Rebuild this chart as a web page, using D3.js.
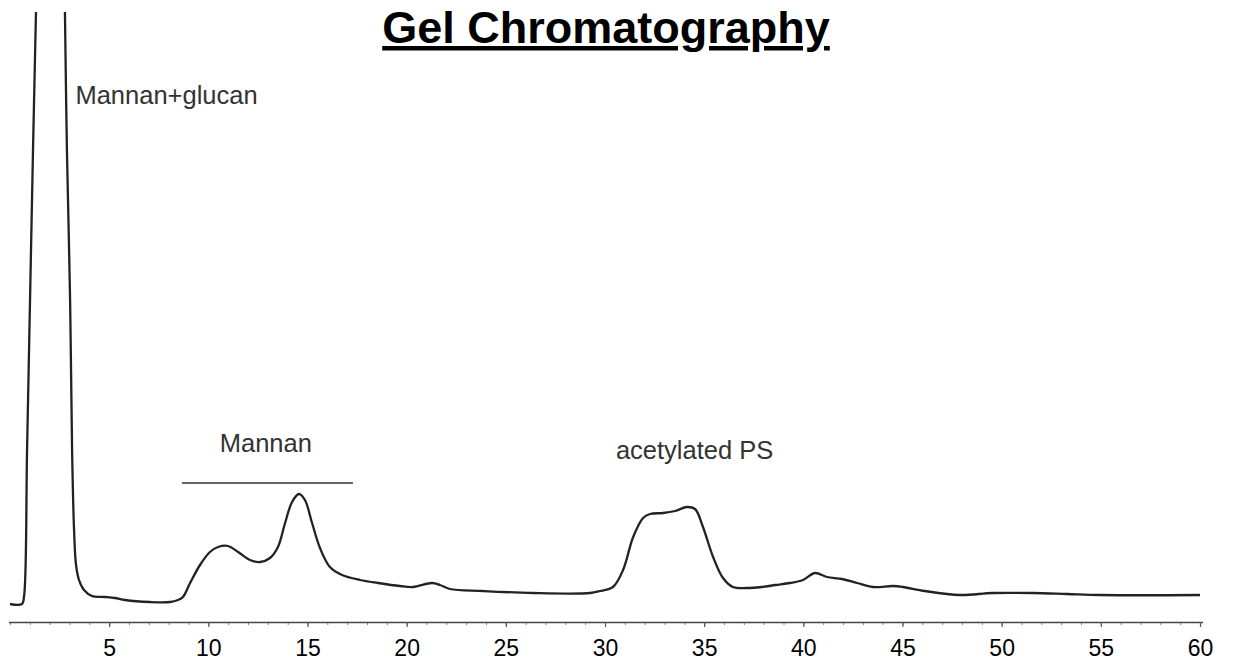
<!DOCTYPE html>
<html>
<head>
<meta charset="utf-8">
<script src="https://cdn.jsdelivr.net/npm/d3@7"></script>
<style>
  body { margin: 0; background: #fff; }
  svg { display: block; }
</style>
</head>
<body>
<div id="chart"></div>
<script>
// elution time (min) and detector signal (arbitrary units)
const times = [0, 0.6, 0.71, 0.86, 1.01, 1.16, 1.31, 1.41, 2.05, 2.72, 2.77, 2.87, 3.03, 3.13, 3.23, 3.33,
  3.48, 3.73, 4.13, 4.79, 5.29, 5.8, 7.06, 8.07, 8.47, 8.72, 9.08, 9.58, 10.08, 10.49, 10.99, 11.5,
  12.1, 12.61, 13.11, 13.51, 13.87, 14.22, 14.57, 14.87, 15.23, 15.63, 16.13, 16.74, 17.65, 18.56,
  19.66, 20.32, 21.28, 21.68, 22.18, 23.85, 26.37, 29.24, 29.75, 30.4, 30.91, 31.42, 31.92, 32.27,
  32.93, 33.53, 34.13, 34.54, 34.94, 35.45, 35.95, 36.45, 37.16, 37.9, 38.6, 39.33, 39.98, 40.59,
  41.19, 41.95, 42.71, 43.51, 44.52, 45.03, 46.13, 47.9, 49.56, 51.58, 53.3, 54.96, 60];
const signal = [18, 18, 26, 172, 322, 472, 610, 702, 780, 682, 610, 472, 322, 172, 92, 57,
  42, 32, 26, 25, 24, 22, 20, 20, 22, 25, 39, 57, 70, 75, 76, 70,
  62, 60, 64, 75, 99, 120, 128, 122, 99, 74, 55, 47, 42, 39,
  36, 35, 39, 37, 33, 31, 29, 29, 31, 35, 52, 85, 104, 108,
  109, 111, 115, 113, 95, 65, 44, 35, 34, 35, 37, 39, 42, 49,
  45, 43, 39, 35, 36, 35, 31, 27, 29, 29, 28, 27, 27];

const majorTicks = [5, 10, 15, 20, 25, 30, 35, 40, 45, 50, 55, 60];
const minorTicks = d3.range(0, 61, 1);

const labels = [
  {text: "Mannan+glucan", t: 3.3, v: 518, anchor: "start"},
  {text: "Mannan", t: 12.9, v: 170, anchor: "middle"},
  {text: "acetylated PS", t: 30.55, v: 163, anchor: "start"}
];
const mannanBar = [8.67, 17.29];
const mannanBarLevel = 139;

const W = 1233, H = 672;
const svg = d3.select("#chart").append("svg")
  .attr("width", W)
  .attr("height", H)
  .style("font-family", "'Liberation Sans', Arial, sans-serif");

const x = d3.scaleLinear().domain([0, 60]).range([10, 1200]);
const y = d3.scaleLinear().domain([0, 610]).range([622, 12]);

svg.append("clipPath").attr("id", "plot-clip")
  .append("rect")
  .attr("x", 0).attr("y", y(610))
  .attr("width", W).attr("height", y(0) - y(610) + 10);

// title
svg.append("text")
  .attr("x", 606)
  .attr("y", 43)
  .attr("text-anchor", "middle")
  .style("font-size", "45px")
  .style("font-weight", "bold")
  .style("text-decoration", "underline")
  .style("fill", "#000")
  .text("Gel Chromatography");

// minor ticks
svg.append("g")
  .attr("transform", `translate(0,${y(0)})`)
  .call(d3.axisBottom(x).tickValues(minorTicks).tickSize(3).tickFormat(""))
  .call(g => g.select(".domain").remove())
  .call(g => g.selectAll(".tick line").attr("stroke", "#888").attr("stroke-width", 1));

// main axis
const xAxis = svg.append("g")
  .attr("transform", `translate(0,${y(0)})`)
  .call(d3.axisBottom(x).tickValues(majorTicks).tickSize(5).tickSizeOuter(0).tickPadding(13));

xAxis.select(".domain")
  .attr("stroke", "#444")
  .attr("stroke-width", 1.6)
  .attr("d", `M${x(0) - 1},0.5H${x(60) + 3}`);
xAxis.selectAll(".tick line").attr("stroke", "#555").attr("stroke-width", 1.2);
xAxis.selectAll(".tick text")
  .style("font-size", "23px")
  .style("fill", "#000");

// trace
const pts = times.map((t, i) => [t, signal[i]]);
const line = d3.line()
  .x(d => x(d[0]))
  .y(d => y(d[1]))
  .curve(d3.curveCatmullRom.alpha(0.5));

svg.append("path")
  .datum(pts)
  .attr("clip-path", "url(#plot-clip)")
  .attr("fill", "none")
  .attr("stroke", "#222")
  .attr("stroke-width", 2.3)
  .attr("stroke-linejoin", "round")
  .attr("d", line);

// Mannan bracket
svg.append("line")
  .attr("x1", x(mannanBar[0]))
  .attr("x2", x(mannanBar[1]))
  .attr("y1", y(mannanBarLevel))
  .attr("y2", y(mannanBarLevel))
  .attr("stroke", "#333")
  .attr("stroke-width", 1.6);

svg.selectAll(".peak-label")
  .data(labels)
  .join("text")
  .attr("class", "peak-label")
  .attr("x", d => x(d.t))
  .attr("y", d => y(d.v))
  .attr("text-anchor", d => d.anchor)
  .style("font-size", "25.5px")
  .style("fill", "#333")
  .text(d => d.text);
</script>
</body>
</html>
